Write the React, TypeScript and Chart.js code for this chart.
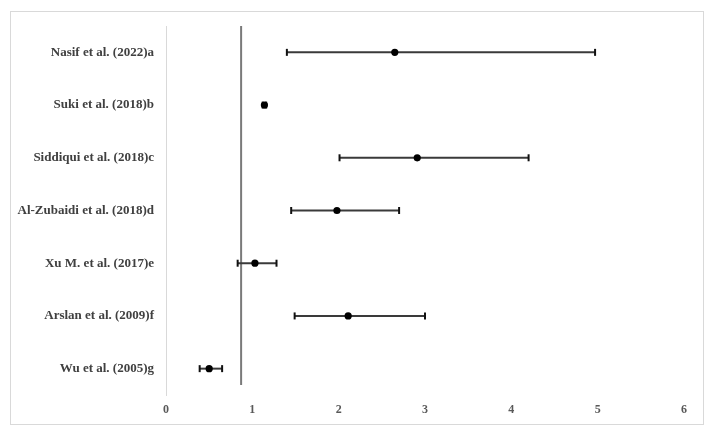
import React, { useEffect, useRef } from "react";
import { Chart, registerables } from "chart.js";

Chart.register(...registerables);

const studies = [
  "Nasif et al. (2022)a",
  "Suki et al. (2018)b",
  "Siddiqui et al. (2018)c",
  "Al-Zubaidi et al. (2018)d",
  "Xu M. et al. (2017)e",
  "Arslan et al. (2009)f",
  "Wu et al. (2005)g",
];
const estimates = [2.65, 1.14, 2.91, 1.98, 1.03, 2.11, 0.5];
const lowerCI = [1.4, 1.12, 2.01, 1.45, 0.83, 1.49, 0.39];
const upperCI = [4.97, 1.16, 4.2, 2.7, 1.28, 3.0, 0.65];
const referenceValue = 0.87;
const refLineSpan = [0.5, 7.31];
const xTicks = [0, 1, 2, 3, 4, 5, 6];

const FONT = "'Liberation Serif', 'Times New Roman', Times, serif";

export default function App() {
  const ref = useRef<HTMLCanvasElement | null>(null);

  useEffect(() => {
    if (!ref.current) return;
    const pointData = studies.map((_, i) => ({ x: estimates[i], y: i + 1 }));
    const ciDatasets = studies.map((s, i) => ({
      type: "line" as const,
      label: s + " CI",
      data: [
        { x: lowerCI[i], y: i + 1 },
        { x: upperCI[i], y: i + 1 },
      ],
      borderColor: "#3a3a3a",
      borderWidth: 2,
      pointStyle: "line" as const,
      rotation: 90,
      pointRadius: 3.5,
      pointBorderWidth: 2,
      pointBorderColor: "#111",
      pointBackgroundColor: "#111",
      showLine: true,
      fill: false,
      order: 2,
      clip: false as any,
    }));
    const chart = new Chart(ref.current, {
      type: "scatter",
      data: {
        datasets: [
          {
            label: "Estimate",
            data: pointData,
            pointRadius: 3.6,
            pointBackgroundColor: "#000",
            pointBorderColor: "#000",
            pointBorderWidth: 0,
            order: 0,
            clip: false as any,
          } as any,
          ...ciDatasets,
          {
            type: "line",
            label: "Reference",
            data: refLineSpan.map((y) => ({ x: referenceValue, y })),
            borderColor: "#7a7a7a",
            borderWidth: 2,
            pointRadius: 0,
            showLine: true,
            fill: false,
            order: 5,
            clip: false as any,
          } as any,
        ],
      },
      options: {
        animation: false,
        responsive: true,
        maintainAspectRatio: false,
        layout: { padding: { top: 14, right: 19, left: 0, bottom: 0 } },
        plugins: {
          legend: { display: false },
          tooltip: { enabled: false },
        },
        scales: {
          x: {
            type: "linear",
            min: 0,
            max: 6,
            afterBuildTicks: (scale: any) => {
              scale.ticks = xTicks.map((v) => ({ value: v }));
            },
            afterFit: (scale: any) => {
              scale.height = 29;
              scale.paddingLeft = 0;
              scale.paddingRight = 0;
            },
            grid: { display: false, drawTicks: false },
            border: { display: false },
            ticks: {
              padding: 8,
              color: "#595959",
              font: { family: FONT, size: 12, weight: "bold" },
            },
          },
          y: {
            type: "linear",
            reverse: true,
            min: 0.5,
            max: 7.5,
            afterBuildTicks: (scale: any) => {
              scale.ticks = studies.map((_, i) => ({ value: i + 1 }));
            },
            afterFit: (scale: any) => {
              scale.width = 155;
              scale.paddingTop = 0;
              scale.paddingBottom = 0;
            },
            grid: { drawOnChartArea: false, drawTicks: false },
            border: { display: true, color: "#d9d9d9", width: 1 },
            ticks: {
              padding: 12,
              color: "#404040",
              font: { family: FONT, size: 13, weight: "bold" },
              callback: (v: any) => studies[Math.round(Number(v)) - 1] ?? "",
            },
          },
        },
      } as any,
    });
    return () => chart.destroy();
  }, []);

  return (
    <div style={{ paddingTop: 3, paddingLeft: 2 }}>
      <div
        style={{
          width: 692,
          height: 412,
          border: "1px solid #d9d9d9",
          position: "relative",
          background: "#fff",
        }}
      >
        <canvas ref={ref} />
      </div>
    </div>
  );
}
